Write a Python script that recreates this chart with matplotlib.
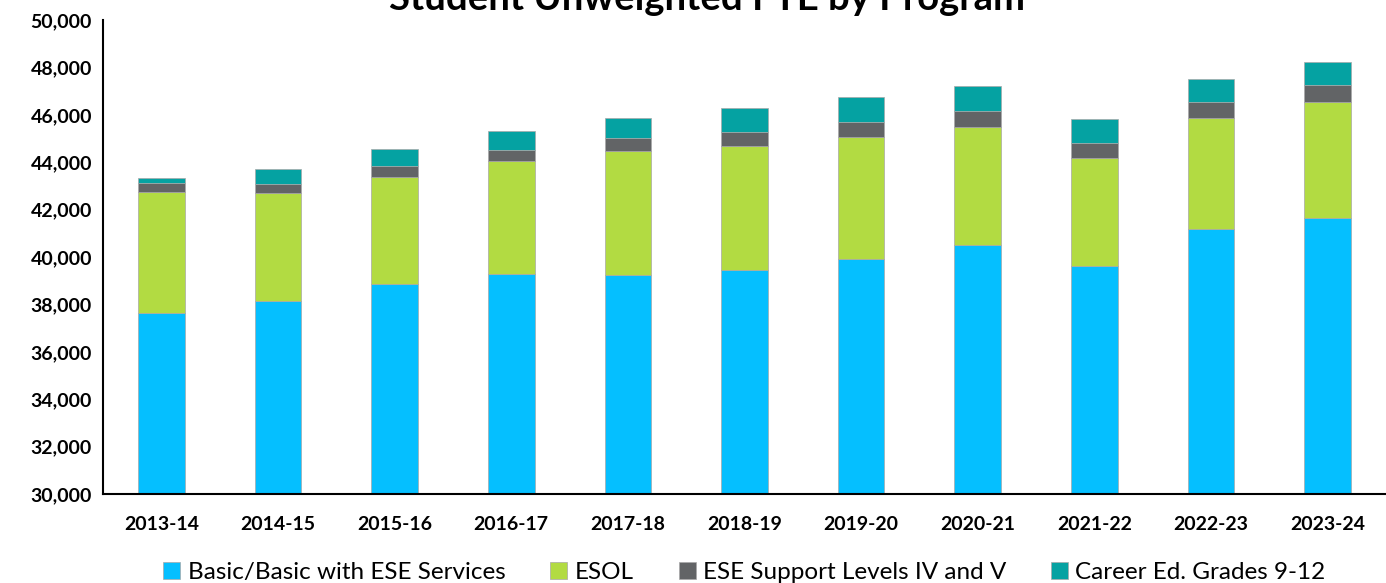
# Student Unweighted FTE by Program - stacked columns

import matplotlib
matplotlib.use('Agg')
import matplotlib.pyplot as plt
import numpy as np
from matplotlib.ticker import FuncFormatter

plt.rcParams['font.family'] = ['Lato', 'DejaVu Sans']

# Dados
anos = ['2013-14', '2014-15', '2015-16', '2016-17', '2017-18', '2018-19',
        '2019-20', '2020-21', '2021-22', '2022-23', '2023-24']
basic = np.array([37620, 38140, 38860, 39295, 39240, 39440, 39930, 40505, 39620, 41180, 41635])
esol = np.array([5130, 4545, 4530, 4745, 5230, 5255, 5125, 4990, 4545, 4670, 4920])
ese = np.array([380, 395, 465, 475, 535, 565, 645, 675, 630, 675, 690])
career = np.array([200, 645, 705, 800, 860, 1010, 1070, 1040, 1025, 970, 995])

series = [
    ('Basic/Basic with ESE Services', basic, '#05BFFF'),
    ('ESOL', esol, '#B2DB42'),
    ('ESE Support Levels IV and V', ese, '#626466'),
    ('Career Ed. Grades 9-12', career, '#05A2A2'),
]

fig = plt.figure(figsize=(13.86, 5.83), dpi=100)
ax = fig.add_axes([0.0743, 0.1527, 0.9257, 0.813])

x = np.arange(len(anos))
base = np.zeros(len(anos))
for nome, vals, cor in series:
    ax.bar(x, vals, bottom=base, width=0.4, color=cor, label=nome,
           edgecolor='#a8a8a8', linewidth=0.5)
    base = base + vals

ax.set_ylim(30000, 50000)
ax.set_xlim(-0.5, len(anos) - 0.5)
ax.set_yticks(np.arange(30000, 50001, 2000))
ax.yaxis.set_major_formatter(FuncFormatter(lambda v, pos: f'{int(v):,}'))
ax.set_xticks(x)
ax.set_xticklabels(anos)

for lbl in ax.get_xticklabels() + ax.get_yticklabels():
    lbl.set_fontweight('bold')
    lbl.set_fontsize(14)
ax.tick_params(axis='both', length=0)
ax.tick_params(axis='x', pad=16)
ax.tick_params(axis='y', pad=8)

for s in ['top', 'right']:
    ax.spines[s].set_visible(False)
for s in ['left', 'bottom']:
    ax.spines[s].set_linewidth(1.5)
    ax.spines[s].set_color('black')

fig.text(0.51, 0.983, 'Student Unweighted FTE by Program', ha='center',
         va='baseline', fontsize=27.5, fontweight='bold')

ax.legend(loc='upper center', bbox_to_anchor=(0.5, -0.122), ncol=4,
          frameon=False, fontsize=17.5, handlelength=0.7, handleheight=0.7,
          handletextpad=0.3, columnspacing=1.85, borderaxespad=0)

fig.savefig('out.png', dpi=100)
